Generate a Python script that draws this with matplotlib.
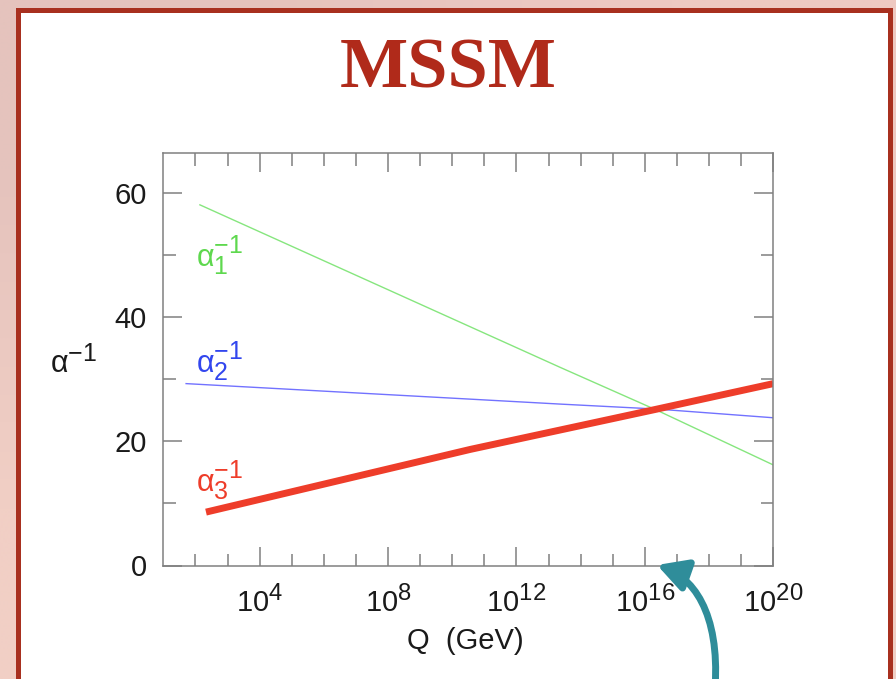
import numpy as np
import matplotlib
matplotlib.use('Agg')
import matplotlib.pyplot as plt
import matplotlib._mathtext as _mt
from matplotlib.patches import Rectangle, FancyArrowPatch
from matplotlib.path import Path
from matplotlib.ticker import FixedLocator, FixedFormatter, NullFormatter

# ---------------- data ----------------
log_q_alpha1 = [2.14, 13.37, 16.38, 20.0]
alpha1_inv = [58.1, 31.9, 25.0, 16.2]

log_q_alpha2 = [1.71, 10.56, 13.37, 16.38, 20.0]
alpha2_inv = [29.3, 26.8, 26.0, 25.2, 23.8]

log_q_alpha3 = [2.33, 10.56, 16.38, 20.0]
alpha3_inv = [8.6, 18.7, 25.2, 29.3]

x_major_ticks = [1e4, 1e8, 1e12, 1e16, 1e20]
x_tick_labels = [r'$\mathregular{10^{4}}$', r'$\mathregular{10^{8}}$',
                 r'$\mathregular{10^{12}}$', r'$\mathregular{10^{16}}$',
                 r'$\mathregular{10^{20}}$']
x_minor_ticks = [10.0 ** k for k in range(2, 20)]
y_major_ticks = [0, 20, 40, 60]
y_tick_labels = ['0', '20', '40', '60']
y_minor_ticks = [10, 30, 50]

title = 'MSSM'
x_label = 'Q  (GeV)'
y_label = r'$\mathregular{α^{-1}}$'
curve_labels = [r'$\mathregular{α_1^{-1}}$', r'$\mathregular{α_2^{-1}}$',
                r'$\mathregular{α_3^{-1}}$']

# ---------------- style ----------------
_mt.SHRINK_FACTOR = 0.82
plt.rcParams['font.family'] = ['Liberation Sans', 'DejaVu Sans']
plt.rcParams['mathtext.fontset'] = 'custom'
plt.rcParams['mathtext.rm'] = 'Liberation Sans'
plt.rcParams['mathtext.it'] = 'Liberation Sans:italic'
plt.rcParams['mathtext.bf'] = 'Liberation Sans:bold'

W, H = 896, 679
fig = plt.figure(figsize=(W / 100, H / 100), dpi=100)


def px(x, y):
    return (x / W, 1 - y / H)


# background gradient
bgax = fig.add_axes([0, 0, 1, 1], zorder=-3)
grad = np.array([[[229, 195, 189], [238, 201, 193]],
                 [[241, 207, 197], [240, 206, 196]]]) / 255.0
bgax.imshow(grad, extent=[0, 1, 0, 1], aspect='auto', interpolation='bilinear')
bgax.set_xlim(0, 1)
bgax.set_ylim(0, 1)
bgax.axis('off')

# white slide box with red border
x0, y0 = px(17.5, 9.5)
box = Rectangle((x0, -0.2), (889.5 - 17.5) / W, y0 + 0.2,
                transform=fig.transFigure, facecolor='white',
                edgecolor='#a8301f', linewidth=3.6, zorder=-2)
fig.add_artist(box)

# main axes
left, top = px(163.3, 152.7)
right, bottom = px(773.3, 565.5)
ax = fig.add_axes([left, bottom, right - left, top - bottom])
ax.set_xscale('log')
ax.set_xlim(1e1, 1e20)
ax.set_ylim(0, 66.5)

ax.plot(10.0 ** np.array(log_q_alpha1), alpha1_inv, color='#86e67e', lw=1.0)
ax.plot(10.0 ** np.array(log_q_alpha2), alpha2_inv, color='#7272ff', lw=1.0)
ax.plot(10.0 ** np.array(log_q_alpha3), alpha3_inv, color='#ee3d2a', lw=5.0,
        solid_capstyle='butt')

ax.xaxis.set_major_locator(FixedLocator(x_major_ticks))
ax.xaxis.set_major_formatter(FixedFormatter(x_tick_labels))
ax.xaxis.set_minor_locator(FixedLocator(x_minor_ticks))
ax.xaxis.set_minor_formatter(NullFormatter())
ax.yaxis.set_major_locator(FixedLocator(y_major_ticks))
ax.yaxis.set_major_formatter(FixedFormatter(y_tick_labels))
ax.yaxis.set_minor_locator(FixedLocator(y_minor_ticks))

spine_col = '#808080'
for s in ax.spines.values():
    s.set_color(spine_col)
    s.set_linewidth(1.1)
ax.tick_params(which='both', direction='in', top=True, right=True,
               color=spine_col, width=1.1, labelcolor='#1a1a1a',
               labelsize=21)
ax.tick_params(which='major', length=14)
ax.tick_params(which='minor', length=9)
ax.tick_params(axis='x', which='major', pad=14)
ax.tick_params(axis='y', which='major', pad=12)

# labels
fig.text(*px(465, 641), x_label, ha='center', va='center', fontsize=21,
         color='#1a1a1a')
fig.text(*px(50, 373), y_label, ha='left', va='baseline', fontsize=22,
         color='#1a1a1a')

fig.text(*px(196, 267), curve_labels[0], ha='left', va='baseline',
         fontsize=22, color='#5ed84e')
fig.text(*px(196, 372), curve_labels[1], ha='left', va='baseline',
         fontsize=22, color='#3246ee')
fig.text(*px(196, 491), curve_labels[2], ha='left', va='baseline',
         fontsize=22, color='#ee3d2a')

# title
fig.text(*px(448, 88), title, ha='center', va='baseline', fontsize=52,
         fontweight='bold', family='Liberation Serif', color='#b02a1a')

# teal arrow (cubic curve in figure coordinates)
arrow_path = Path([px(714, 700), px(722, 625), px(700, 580), px(657, 565)],
                  [Path.MOVETO, Path.CURVE4, Path.CURVE4, Path.CURVE4])
arrow = FancyArrowPatch(path=arrow_path, transform=fig.transFigure,
                        arrowstyle='-|>,head_length=1.1,head_width=0.6',
                        mutation_scale=16, lw=5, color='#2f8d9a',
                        zorder=5)
fig.add_artist(arrow)

fig.savefig('out.png', dpi=100)
